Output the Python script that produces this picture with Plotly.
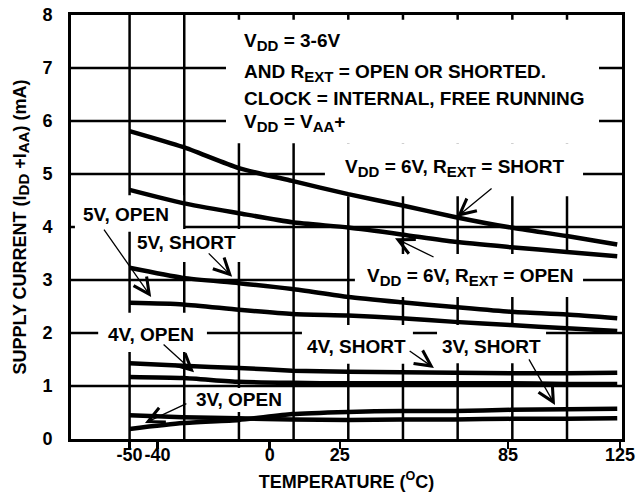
import plotly.graph_objects as go

# ---- data (temperature in degC, supply current in mA) ----
temps = [-50, -31, -11, 8, 28, 47, 66, 86, 106, 124]
vdd6_short = [5.81, 5.51, 5.11, 4.87, 4.62, 4.41, 4.19, 3.99, 3.83, 3.67]
vdd6_open = [4.70, 4.45, 4.26, 4.09, 3.99, 3.86, 3.72, 3.62, 3.53, 3.45]
v5_short = [3.23, 3.04, 2.94, 2.83, 2.68, 2.58, 2.49, 2.40, 2.35, 2.28]
v5_open = [2.57, 2.54, 2.44, 2.36, 2.33, 2.28, 2.21, 2.15, 2.09, 2.04]
v4_short = [1.43, 1.38, 1.34, 1.29, 1.27, 1.26, 1.25, 1.24, 1.24, 1.25]
v4_open = [1.17, 1.15, 1.08, 1.06, 1.05, 1.05, 1.05, 1.05, 1.04, 1.04]
v3_open = [0.45, 0.41, 0.39, 0.37, 0.36, 0.37, 0.37, 0.38, 0.38, 0.39]
v3_short = [0.19, 0.30, 0.36, 0.47, 0.51, 0.53, 0.53, 0.55, 0.56, 0.57]

series = [vdd6_short, vdd6_open, v5_short, v5_open, v4_short, v4_open, v3_open, v3_short]
series_names = ["VDD=6V, REXT=SHORT", "VDD=6V, REXT=OPEN", "5V, SHORT", "5V, OPEN",
                "4V, SHORT", "4V, OPEN", "3V, OPEN", "3V, SHORT"]

x_tick_vals = [-50, -40, 0, 25, 85, 125]
x_tick_text = ["-50", "-40", "0", "25", "85", "125"]
y_tick_vals = [0, 1, 2, 3, 4, 5, 6, 7, 8]

# ---- style ----
FONT = "Liberation Sans, Arial, Helvetica, sans-serif"
XR = [-70.9, 125.7]
YR = [0, 8]
GRID_X0, GRID_DX, GRID_N = -50, 19.51, 9
GW = 2.5
AFS = 19  # annotation font size


def sub(t):
    return '<sub><span style="font-size:15px">%s</span></sub>' % t


fig = go.Figure()
for vals, name in zip(series, series_names):
    fig.add_trace(go.Scatter(x=temps, y=vals, mode="lines", name=name,
                             line=dict(color="black", width=4.5, shape="spline", smoothing=0.6),
                             showlegend=False, cliponaxis=True, hoverinfo="skip"))

shapes = []
for k in range(GRID_N):
    gx = GRID_X0 + k * GRID_DX
    shapes.append(dict(type="line", xref="x", yref="y", x0=gx, x1=gx, y0=YR[0], y1=YR[1],
                       line=dict(color="black", width=GW), layer="between"))
for gy in range(1, 8):
    shapes.append(dict(type="line", xref="x", yref="y", x0=XR[0], x1=XR[1], y0=gy, y1=gy,
                       line=dict(color="black", width=GW), layer="between"))
# white backgrounds behind the text (x0, x1, y0, y1)
masks = [
    (-15.6, 117.5, 5.58, 7.91),
    (19.7, 111.8, 4.58, 5.58),
    (30.4, 111.8, 2.68, 3.49),
    (-69.5, -30.9, 3.91, 4.60),
    (-48.0, -2.7, 3.34, 3.96),
    (-61.2, -22.4, 1.64, 2.38),
    (11.5, 51.1, 1.42, 2.15),
    (59.7, 98.6, 1.43, 2.15),
    (-28.4, 5.5, 0.51, 0.96),
]
for x0, x1, y0, y1 in masks:
    shapes.append(dict(type="rect", xref="x", yref="y", x0=x0, x1=x1, y0=y0, y1=y1,
                       fillcolor="white", line=dict(width=0), layer="between"))

annotations = []
box_lines = [
    ("V" + sub("DD") + " = 3-6V", 7.49),
    ("AND R" + sub("EXT") + " = OPEN OR SHORTED.", 6.91),
    ("CLOCK = INTERNAL, FREE RUNNING", 6.42),
    ("V" + sub("DD") + " = V" + sub("AA") + "+", 5.97),
]
for txt, yy in box_lines:
    annotations.append(dict(x=-9.8, y=yy, xref="x", yref="y", text=txt, showarrow=False,
                            xanchor="left", yanchor="middle", font=dict(size=AFS)))
labels = [
    ("V" + sub("DD") + " = 6V, R" + sub("EXT") + " = SHORT", 66.1, 5.12),
    ("V" + sub("DD") + " = 6V, R" + sub("EXT") + " = OPEN", 71.5, 3.05),
    ("5V, OPEN", -51.1, 4.23),
    ("5V, SHORT", -29.7, 3.71),
    ("4V, OPEN", -42.2, 1.98),
    ("4V, SHORT", 31.0, 1.75),
    ("3V, SHORT", 79.0, 1.75),
    ("3V, OPEN", -11.1, 0.74),
]
for txt, xx, yy in labels:
    annotations.append(dict(x=xx, y=yy, xref="x", yref="y", text=txt, showarrow=False,
                            xanchor="center", yanchor="middle", font=dict(size=AFS)))
arrows = [
    (66.8, 4.19, 79.7, 4.75),
    (44.7, 3.79, 59.0, 3.42),
    (-42.3, 2.68, -59.5, 3.98),
    (-13.4, 3.06, -22.3, 3.53),
    (-27.0, 1.26, -38.4, 1.81),
    (58.6, 1.34, 49.4, 1.68),
    (101.8, 0.64, 92.2, 1.53),
    (-44.5, 0.30, -29.2, 0.68),
]
for tx, ty, sx, sy in arrows:
    annotations.append(dict(x=tx, y=ty, ax=sx, ay=sy, xref="x", yref="y", axref="x", ayref="y",
                            text="", showarrow=True, arrowhead=5, arrowsize=2.4, arrowwidth=1.3,
                            arrowcolor="black", standoff=0))

fig.update_layout(
    width=636, height=492,
    margin=dict(l=71, r=14, t=15, b=53),
    paper_bgcolor="white", plot_bgcolor="white",
    font=dict(family=FONT, size=18, color="black", weight="bold"),
    shapes=shapes, annotations=annotations,
    xaxis=dict(range=XR, tickvals=x_tick_vals, ticktext=x_tick_text, showgrid=False,
               zeroline=False, showline=True, mirror=True, linecolor="black", linewidth=3,
               ticks="outside", ticklen=7, tickwidth=2.5, tickcolor="black",
               ticklabelstandoff=-10, tickfont=dict(size=18), automargin=False,
               title=dict(text="TEMPERATURE (<sup>O</sup>C)", font=dict(size=18), standoff=16)),
    yaxis=dict(range=YR, tickvals=y_tick_vals, showgrid=False, zeroline=False,
               showline=True, mirror=True, linecolor="black", linewidth=3,
               ticks="", ticklabelstandoff=12, tickfont=dict(size=18), automargin=False,
               title=dict(text="SUPPLY CURRENT (I" + sub("DD") + " +I" + sub("AA") + ") (mA)",
                          font=dict(size=18), standoff=12)),
)

fig.write_html("out.html", config={"displayModeBar": False, "staticPlot": True},
               post_script="document.body.style.margin='0';")
